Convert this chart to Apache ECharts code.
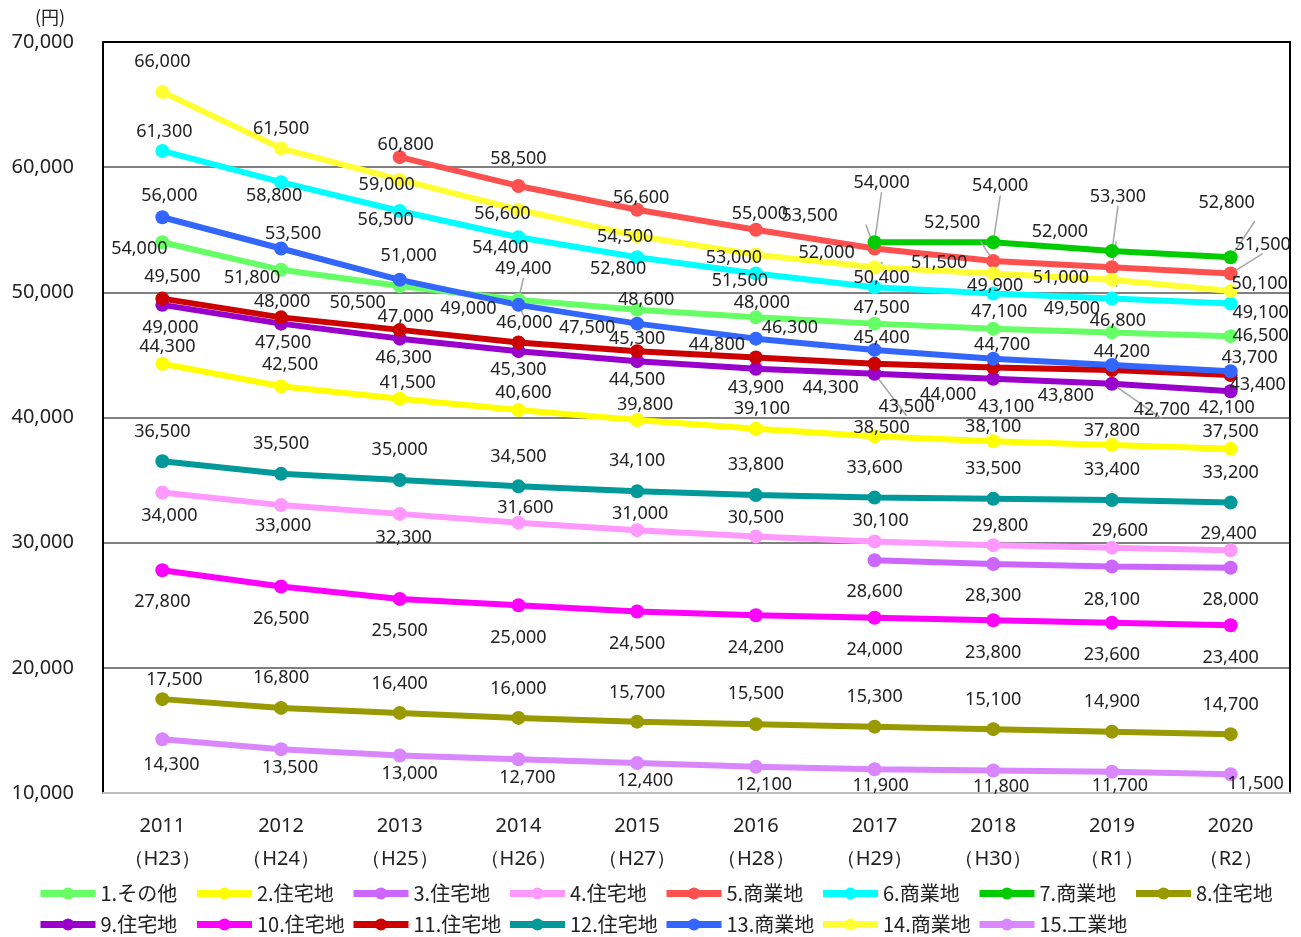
<!DOCTYPE html>
<html>
<head>
<meta charset="utf-8">
<script src="https://cdn.jsdelivr.net/npm/echarts@6/dist/echarts.min.js"></script>
<style>
  html, body { margin: 0; padding: 0; background: #fff; }
  #chart { width: 1301px; height: 937px; }
</style>
</head>
<body>
<div id="chart"></div>
<script>
// 年度ラベル
const years = ['2011', '2012', '2013', '2014', '2015', '2016', '2017', '2018', '2019', '2020'];
const eras = ['（H23）', '（H24）', '（H25）', '（H26）', '（H27）', '（H28）', '（H29）', '（H30）', '（R1）', '（R2）'];

// 各地点の価格（円）
const s1 = [54000, 51800, 50500, 49400, 48600, 48000, 47500, 47100, 46800, 46500];
const s2 = [44300, 42500, 41500, 40600, 39800, 39100, 38500, 38100, 37800, 37500];
const s3 = [null, null, null, null, null, null, 28600, 28300, 28100, 28000];
const s4 = [34000, 33000, 32300, 31600, 31000, 30500, 30100, 29800, 29600, 29400];
const s5 = [null, null, 60800, 58500, 56600, 55000, 53500, 52500, 52000, 51500];
const s6 = [61300, 58800, 56500, 54400, 52800, 51500, 50400, 49900, 49500, 49100];
const s7 = [null, null, null, null, null, null, 54000, 54000, 53300, 52800];
const s8 = [17500, 16800, 16400, 16000, 15700, 15500, 15300, 15100, 14900, 14700];
const s9 = [49000, 47500, 46300, 45300, 44500, 43900, 43500, 43100, 42700, 42100];
const s10 = [27800, 26500, 25500, 25000, 24500, 24200, 24000, 23800, 23600, 23400];
const s11 = [49500, 48000, 47000, 46000, 45300, 44800, 44300, 44000, 43800, 43400];
const s12 = [36500, 35500, 35000, 34500, 34100, 33800, 33600, 33500, 33400, 33200];
const s13 = [56000, 53500, 51000, 49000, 47500, 46300, 45400, 44700, 44200, 43700];
const s14 = [66000, 61500, 59000, 56600, 54500, 53000, 52000, 51500, 51000, 50100];
const s15 = [14300, 13500, 13000, 12700, 12400, 12100, 11900, 11800, 11700, 11500];

const names = ['1.その他', '2.住宅地', '3.住宅地', '4.住宅地', '5.商業地', '6.商業地', '7.商業地', '8.住宅地',
  '9.住宅地', '10.住宅地', '11.住宅地', '12.住宅地', '13.商業地', '14.商業地', '15.工業地'];
const values = [s1, s2, s3, s4, s5, s6, s7, s8, s9, s10, s11, s12, s13, s14, s15];
const colors = ['#66ff66', '#ffff00', '#cc66ff', '#ff99ff', '#ff5050', '#00ffff', '#00cc00', '#999900',
  '#9900cc', '#ff00ff', '#cc0000', '#009999', '#3366ff', '#ffff33', '#d986ff'];

// ラベル位置（点からのずれ）
const labelOffsets = [
  [[-23, 7], [-29, 8], [-42, 17], [5, -31], [9, -10], [6, -14], [7, -16], [6, -17], [6, -12], [30, 0]],
  [[5, -17], [9, -21], [8, -16], [5, -17], [8, -15], [6, -20], [7, -8], [0, -14], [0, -14], [0, -17]],
  [null, null, null, null, null, null, [0, 32], [0, 32], [0, 33], [0, 32]],
  [[7, 23], [2, 21], [4, 24], [7, -15], [3, -16], [0, -19], [6, -21], [7, -19], [8, -17], [-2, -16]],
  [null, null, [6, -12], [0, -27], [4, -12], [4, -16], [-65, -33], [-41, -38], [-52, -35], [32, -29]],
  [[2, -19], [-7, 14], [-14, 9], [-18, 11], [-19, 12], [-16, 7], [7, -9], [2, -8], [-40, 10], [30, 9]],
  [null, null, null, null, null, null, [7, -59], [7, -56], [6, -54], [-4, -54]],
  [[12, -19], [0, -30], [0, -29], [0, -29], [0, -29], [0, -30], [0, -30], [0, -29], [0, -30], [0, -29]],
  [[8, 23], [2, 19], [4, 19], [0, 19], [0, 19], [0, 19], [32, 33], [13, 28], [50, 26], [-4, 17]],
  [[0, 32], [0, 32], [0, 32], [0, 33], [0, 32], [0, 33], [0, 32], [0, 33], [0, 32], [0, 33]],
  [[10, -22], [1, -15], [6, -13], [6, -20], [0, -12], [-39, -13], [-44, 24], [-45, 27], [-46, 26], [27, 10]],
  [[0, -29], [0, -30], [0, -30], [0, -29], [0, -30], [0, -30], [0, -30], [0, -30], [0, -30], [0, -30]],
  [[7, -21], [12, -15], [9, -24], [-50, 4], [-50, 4], [34, -11], [7, -12], [9, -14], [10, -13], [19, -13]],
  [[0, -30], [0, -20], [-13, 5], [-16, 4], [-12, 1], [-22, 3], [-48, -14], [-54, -11], [-51, -2], [29, -7]],
  [[9, 26], [9, 19], [10, 18], [9, 19], [8, 18], [8, 18], [6, 17], [8, 16], [8, 14], [25, 10]]
];

// 引き出し線を付ける点 [系列, 年]
const leaders = [[0, 3], [12, 3], [12, 4], [4, 6], [4, 7], [4, 8], [4, 9], [6, 6], [6, 7], [6, 8], [6, 9],
  [13, 6], [13, 7], [13, 8], [8, 6], [8, 8]];

const hasLeader = (k, i) => leaders.some(l => l[0] === k && l[1] === i);

const series = values.map((vals, k) => {
  return {
    name: names[k],
    type: 'line',
    symbol: 'circle',
    symbolSize: 14,
    color: colors[k],
    lineStyle: { width: 6, color: colors[k] },
    itemStyle: { color: colors[k] },
    label: {
      show: true,
      position: 'inside',
      fontSize: 18,
      fontFamily: 'Noto Sans',
      color: '#222',
      formatter: p => echarts.format.addCommas(p.value)
    },
    labelLine: { show: false },
    data: vals.map((v, i) => {
      if (v == null) return '-';
      let item = { value: v, label: { offset: labelOffsets[k][i] } };
      if (hasLeader(k, i)) {
        item.labelLine = { show: true, lineStyle: { color: '#a6a6a6', width: 1.5 } };
      }
      return item;
    })
  };
});

const chart = echarts.init(document.getElementById('chart'));
chart.setOption({
  animation: false,
  title: {
    text: '(円)',
    left: 30,
    top: 3,
    textStyle: { fontSize: 18, fontWeight: 'normal', color: '#222', fontFamily: 'Noto Sans CJK JP' }
  },
  grid: { left: 103, right: 11, top: 42, bottom: 144 },
  legend: {
    left: 37,
    top: 880,
    width: 1264,
    padding: 0,
    itemWidth: 55,
    itemHeight: 15,
    itemGap: 4,
    lineStyle: { width: 7 },
    textStyle: {
      fontSize: 20,
      fontFamily: 'Noto Sans CJK JP',
      color: '#222',
      width: 89,
      lineHeight: 27
    },
    data: names
  },
  xAxis: [
    {
      type: 'category',
      data: years.map((y, i) => y + '\n' + eras[i]),
      axisLine: { lineStyle: { color: '#bfbfbf', width: 2 } },
      axisTick: { show: false },
      axisLabel: { fontSize: 20, lineHeight: 33, margin: 17, color: '#222', fontFamily: 'Noto Sans' }
    },
    {
      type: 'category',
      position: 'top',
      data: years,
      axisLine: { lineStyle: { color: '#000', width: 2 } },
      axisTick: { show: false },
      axisLabel: { show: false }
    }
  ],
  yAxis: [
    {
      type: 'value',
      min: 10000,
      max: 70000,
      interval: 10000,
      axisLine: { show: true, lineStyle: { color: '#000', width: 2 } },
      axisTick: { show: false },
      axisLabel: {
        fontSize: 20, color: '#222', margin: 29, fontFamily: 'Noto Sans',
        formatter: v => echarts.format.addCommas(v)
      },
      splitLine: { lineStyle: { color: '#808080', width: 2 } }
    },
    {
      type: 'value',
      position: 'right',
      min: 10000,
      max: 70000,
      interval: 10000,
      axisLine: { show: true, lineStyle: { color: '#000', width: 2 } },
      axisTick: { show: false },
      axisLabel: { show: false },
      splitLine: { show: false }
    }
  ],
  series: series
});
</script>
</body>
</html>
